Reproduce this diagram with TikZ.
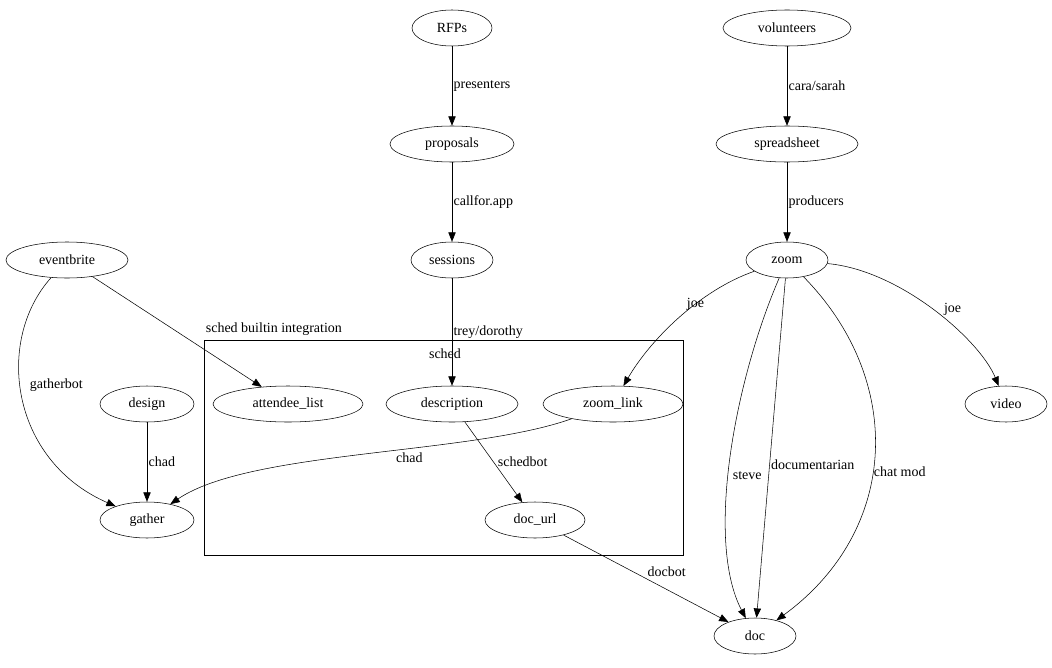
\documentclass[tikz,border=0pt]{standalone}
\usepackage{fontspec}
\setmainfont{Liberation Serif}
\usetikzlibrary{shapes.geometric,arrows.meta}

\begin{document}
\begin{tikzpicture}[x=0.75pt,y=-0.75pt,font=\fontsize{10.5}{12}\selectfont,
  nd/.style={ellipse,draw,inner sep=0pt,minimum height=27pt,minimum width=#1*0.75pt},
  ed/.style={-{Triangle[length=7pt,width=5.5pt]}},
  lb/.style={inner sep=1pt}]
\useasboundingbox (0,0) rectangle (1052,667);

% cluster
\draw (204,340) rectangle (683,555);
\node (schedlbl) at (445,354) {sched};

\node[nd=80] (RFPs) at (452,28) {RFPs};
\node[nd=128] (volunteers) at (787,28) {volunteers};
\node[nd=124] (proposals) at (452,144) {proposals};
\node[nd=142] (spreadsheet) at (787,144) {spreadsheet};
\node[nd=82] (sessions) at (452,260) {sessions};
\node[nd=82] (zoom) at (787,260) {zoom};
\node[nd=122] (eventbrite) at (67,260) {eventbrite};
\node[nd=94] (design) at (147,404) {design};
\node[nd=150] (attendee) at (288,404) {attendee\_list};
\node[nd=132] (description) at (452,404) {description};
\node[nd=140] (zoomlink) at (613,404) {zoom\_link};
\node[nd=82] (video) at (1006,404) {video};
\node[nd=94] (gather) at (147,520) {gather};
\node[nd=100] (docurl) at (535,520) {doc\_url};
\node[nd=82] (doc) at (755,636) {doc};

\draw[ed] (RFPs) -- node[lb,right] {presenters} (proposals);
\draw[ed] (volunteers) -- node[lb,right] {cara/sarah} (spreadsheet);
\draw[ed] (proposals) -- node[lb,right] {callfor.app} (sessions);
\draw[ed] (spreadsheet) -- node[lb,right] {producers} (zoom);
\draw[ed] (sessions) -- node[lb,right] {trey/dorothy} (description);
\draw[ed] (eventbrite) -- node[lb,pos=0.55,anchor=south west,xshift=14pt] {sched builtin integration} (attendee);
\draw[ed] (eventbrite) .. controls (-5,340) and (10,460) .. node[lb,pos=0.45,right=6pt] {gatherbot} (gather);
\draw[ed] (design) -- node[lb,right] {chad} (gather);
\draw[ed] (zoomlink) .. controls (470,455) and (250,450) .. node[lb,pos=0.4,below=2pt] {chad} (gather);
\draw[ed] (description) -- node[lb,right=2pt] {schedbot} (docurl);
\draw[ed] (docurl) -- node[lb,above right] {docbot} (doc);
\draw[ed] (zoom) .. controls (700,290) and (650,340) .. node[lb,pos=0.45,above right] {joe} (zoomlink);
\draw[ed] (zoom) .. controls (900,270) and (980,340) .. node[lb,pos=0.55,above right] {joe} (video);
\draw[ed] (zoom) .. controls (735,380) and (705,540) .. node[lb,pos=0.55,right=2pt] {steve} (doc);
\draw[ed] (zoom) -- node[lb,pos=0.55,right] {documentarian} (doc);
\draw[ed] (zoom) .. controls (905,380) and (900,530) .. node[lb,pos=0.55,right] {chat mod} (doc);
\end{tikzpicture}
\end{document}
